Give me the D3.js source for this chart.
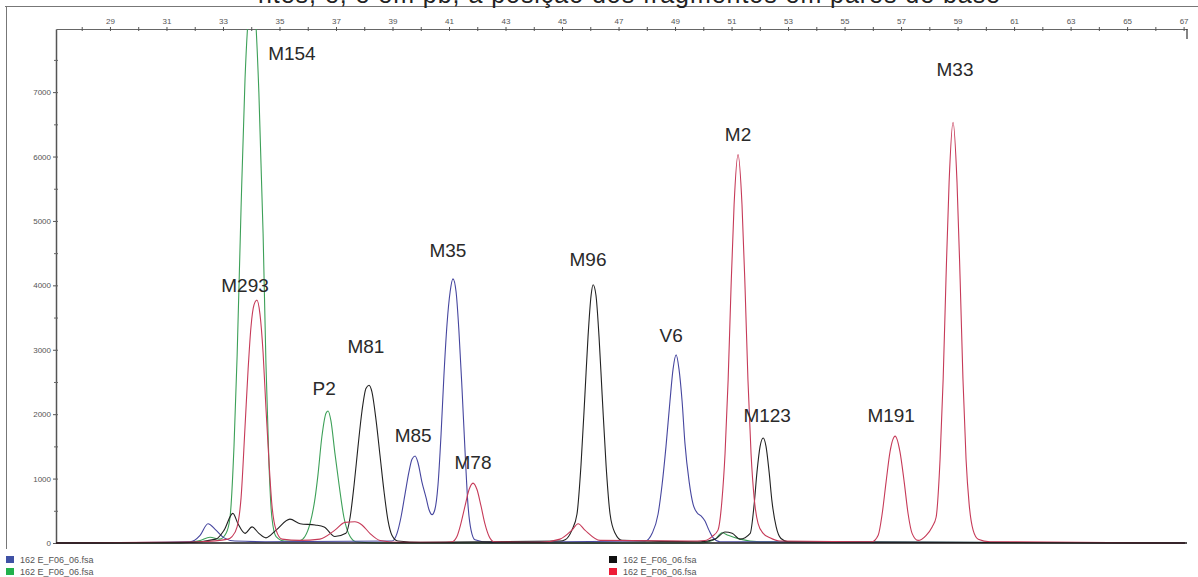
<!DOCTYPE html>
<html><head><meta charset="utf-8">
<script src="https://cdn.jsdelivr.net/npm/d3@7"></script>
<style>
body{margin:0;background:#fff;}
svg{display:block;font-family:"Liberation Sans",Arial,sans-serif;}
</style>
</head><body>
<svg id="c" width="1198" height="577"></svg>
<script>
// ---- data ----
const xMajorTicks = [29,31,33,35,37,39,41,43,45,47,49,51,53,55,57,59,61,63,65,67];
const xMinorTicks = [28,30,32,34,36,38,40,42,44,46,48,50,52,54,56,58,60,62,64,66];
const yMajorTicks = [0,1000,2000,3000,4000,5000,6000,7000];
const yMinorTicks = [500,1500,2500,3500,4500,5500,6500,7500];
const xDomain = [27.09, 67.12];
const yDomain = [0, 7980];

const seriesNames = ["blue","green","black","red"];
const legendLabels = ["162 E_F06_06.fsa","162 E_F06_06.fsa","162 E_F06_06.fsa","162 E_F06_06.fsa"];

const blueTrace = [[27.05,0],[31.83,20],[32.19,120],[32.47,300],[32.75,200],[33.04,80],[33.42,30],[34.5,20],[38.98,30],[39.16,150],[39.30,400],[39.44,750],[39.58,1100],[39.69,1300],[39.80,1350],[39.90,1250],[40.04,950],[40.19,700],[40.29,520],[40.40,440],[40.50,520],[40.61,900],[40.72,1700],[40.82,2600],[40.93,3400],[41.04,3900],[41.14,4100],[41.25,3900],[41.35,3300],[41.46,2400],[41.57,1400],[41.67,600],[41.78,200],[41.92,50],[42.45,10],[47.94,30],[48.19,150],[48.40,450],[48.54,900],[48.68,1500],[48.82,2200],[48.93,2700],[49.04,2920],[49.14,2700],[49.25,2200],[49.35,1550],[49.50,950],[49.64,600],[49.78,470],[49.92,420],[50.06,340],[50.20,200],[50.35,80],[50.59,20],[67.05,0]];

const greenTrace = [[27.05,0],[31.48,0],[32.19,40],[32.54,90],[32.89,60],[33.11,150],[33.25,400],[33.39,1500],[33.50,2900],[33.64,5200],[33.78,7200],[33.92,8300],[34.03,8600],[34.13,8300],[34.27,7000],[34.42,4800],[34.52,2800],[34.63,1200],[34.73,400],[34.88,100],[35.19,30],[35.73,40],[35.90,100],[36.08,300],[36.26,700],[36.36,1050],[36.50,1650],[36.65,2020],[36.72,2050],[36.82,1900],[36.96,1400],[37.11,900],[37.28,400],[37.50,100],[37.71,20],[38.56,0],[49.89,0],[50.42,60],[50.66,160],[50.88,120],[51.30,60],[52.01,20],[67.05,0]];

const blackTrace = [[27.05,0],[31.83,10],[32.75,60],[33.04,200],[33.35,460],[33.53,300],[33.78,150],[34.03,250],[34.27,150],[34.52,80],[34.88,200],[35.37,370],[35.73,300],[36.26,280],[36.58,250],[36.96,100],[37.35,150],[37.50,400],[37.64,900],[37.78,1500],[37.92,2050],[38.06,2400],[38.17,2450],[38.27,2350],[38.42,1900],[38.56,1350],[38.70,800],[38.84,350],[38.98,120],[39.19,30],[40.00,10],[44.93,30],[45.11,50],[45.35,200],[45.53,450],[45.67,1200],[45.81,2300],[45.92,3200],[46.03,3850],[46.10,4010],[46.20,3850],[46.31,3200],[46.42,2300],[46.56,1200],[46.70,450],[46.88,150],[47.12,40],[49.89,20],[50.42,60],[50.77,170],[51.02,150],[51.30,60],[51.66,150],[51.80,600],[51.90,1100],[52.01,1500],[52.12,1630],[52.22,1500],[52.33,1100],[52.43,650],[52.58,250],[52.75,70],[53.00,20],[67.05,0]];

const redTrace = [[27.05,0],[30.42,10],[32.19,20],[33.18,60],[33.32,100],[33.50,250],[33.64,700],[33.78,1800],[33.89,2700],[33.99,3350],[34.10,3700],[34.20,3770],[34.31,3550],[34.42,2950],[34.52,2100],[34.63,1250],[34.73,600],[34.88,200],[35.09,60],[35.73,40],[36.43,60],[36.96,200],[37.32,320],[37.67,330],[37.92,280],[38.20,150],[38.56,40],[39.27,10],[40.68,10],[41.11,20],[41.28,100],[41.42,300],[41.57,580],[41.71,830],[41.85,930],[41.99,830],[42.13,580],[42.27,300],[42.42,100],[42.59,20],[44.22,10],[44.93,60],[45.35,200],[45.57,300],[45.81,200],[46.35,40],[49.53,30],[50.06,40],[50.31,100],[50.52,200],[50.66,660],[50.77,1390],[50.88,2540],[50.98,3940],[51.09,5250],[51.23,6030],[51.37,5250],[51.48,3940],[51.58,2540],[51.69,1390],[51.80,700],[51.94,300],[52.12,150],[52.36,80],[52.72,30],[55.55,20],[55.97,20],[56.19,120],[56.33,450],[56.47,950],[56.61,1420],[56.79,1660],[56.96,1420],[57.11,950],[57.25,450],[57.39,150],[57.60,40],[57.89,120],[58.10,250],[58.24,400],[58.38,1300],[58.49,2550],[58.59,4100],[58.70,5600],[58.84,6530],[58.98,5600],[59.09,4100],[59.19,2550],[59.30,1300],[59.41,600],[59.55,200],[59.73,60],[60.15,20],[67.05,0]];

const peakNames = ["M154","M293","P2","M81","M85","M35","M78","M96","V6","M2","M123","M191","M33"];
const peakLabelBp = [35.44,33.78,36.58,38.06,39.73,40.96,41.85,45.92,48.86,51.23,52.26,56.65,58.91];
const peakLabelRfu = [7500,3900,2300,2950,1570,4440,1150,4300,3120,6240,1880,1880,7250];

const titleText = "ntes, e, e em pb, a posição dos fragmentos em pares de base";

// ---- styles ----
const colors = {blue:"#46469f", green:"#3da058", black:"#222222", red:"#c63a58"};
const swatch = {blue:"#3f51a5", green:"#22b14c", black:"#111111", red:"#ed1c36"};

const svg = d3.select("#c");
const L = 56, R = 1187, T = 29, B = 543;
const x = d3.scaleLinear().domain(xDomain).range([L, R]);
const y = d3.scaleLinear().domain(yDomain).range([B, T]);

// outer frame
svg.append("line").attr("x1",5).attr("x2",1198).attr("y1",6.5).attr("y2",6.5).attr("stroke","#777").attr("stroke-width",1);
svg.append("line").attr("x1",6.5).attr("x2",6.5).attr("y1",6).attr("y2",549).attr("stroke","#777").attr("stroke-width",1);

// title (cut off at the top edge, as in the reference)
svg.append("text").attr("x",258).attr("y",2.5).attr("font-size",25).attr("fill","#222")
  .attr("textLength",742).attr("lengthAdjust","spacing").text(titleText);

// clip
svg.append("defs").append("clipPath").attr("id","plot")
  .append("rect").attr("x",L).attr("y",T).attr("width",R-L).attr("height",B-T+2);

// top axis
const topAxis = svg.append("g").attr("transform",`translate(0,${T})`)
  .call(d3.axisTop(x).tickValues(xMajorTicks).tickSize(2).tickSizeOuter(0).tickPadding(3).tickFormat(d3.format("d")));
topAxis.select(".domain").attr("stroke","#666").attr("stroke-width",1.2);
topAxis.selectAll(".tick line").attr("stroke","#555");
topAxis.selectAll("text").attr("font-size",8).attr("fill","#555").attr("font-family","Liberation Sans, Arial, sans-serif");
const topAxis2 = svg.append("g").attr("transform",`translate(0,${T})`)
  .call(d3.axisBottom(x).tickValues(xMajorTicks.concat(xMinorTicks)).tickSize(2).tickSizeOuter(0).tickFormat(""));
topAxis2.select(".domain").remove();
topAxis2.selectAll(".tick line").attr("stroke","#555");
const topAxis3 = svg.append("g").attr("transform",`translate(0,${T})`)
  .call(d3.axisTop(x).tickValues(xMinorTicks).tickSize(2).tickSizeOuter(0).tickFormat(""));
topAxis3.select(".domain").remove();
topAxis3.selectAll(".tick line").attr("stroke","#555");
// right edge short line
svg.append("line").attr("x1",R).attr("x2",R).attr("y1",T).attr("y2",T+10).attr("stroke","#333").attr("stroke-width",1.2);

// left axis
const leftAxis = svg.append("g").attr("transform",`translate(${L},0)`)
  .call(d3.axisLeft(y).tickValues(yMajorTicks).tickSize(3).tickSizeOuter(0).tickPadding(2).tickFormat(d3.format("d")));
leftAxis.select(".domain").attr("stroke","#555").attr("stroke-width",1.5);
leftAxis.selectAll(".tick line").attr("stroke","#555");
leftAxis.selectAll("text").attr("font-size",8).attr("fill","#555").attr("font-family","Liberation Sans, Arial, sans-serif");
const leftAxis2 = svg.append("g").attr("transform",`translate(${L},0)`)
  .call(d3.axisRight(y).tickValues(yMajorTicks.concat(yMinorTicks)).tickSize(2).tickSizeOuter(0).tickFormat(""));
leftAxis2.select(".domain").remove();
leftAxis2.selectAll(".tick line").attr("stroke","#666");
const leftAxis3 = svg.append("g").attr("transform",`translate(${L},0)`)
  .call(d3.axisLeft(y).tickValues(yMinorTicks).tickSize(2).tickSizeOuter(0).tickFormat(""));
leftAxis3.select(".domain").remove();
leftAxis3.selectAll(".tick line").attr("stroke","#666");

// traces
const line = d3.line().x(d=>x(d[0])).y(d=>y(d[1])).curve(d3.curveMonotoneX);
const traces = {blue:blueTrace, green:greenTrace, black:blackTrace, red:redTrace};
const g = svg.append("g").attr("clip-path","url(#plot)");
["green","blue","black","red"].forEach(k=>{
  g.append("path").datum(traces[k]).attr("d",line).attr("fill","none")
    .attr("stroke",colors[k]).attr("stroke-width",1.1).attr("stroke-linejoin","round");
});
// baseline
svg.append("line").attr("x1",L).attr("x2",R).attr("y1",y(0)).attr("y2",y(0)).attr("stroke","#1a1a1a").attr("stroke-width",1.6);

// peak labels
svg.append("g").selectAll("text").data(peakNames).join("text")
  .attr("x",(d,i)=>x(peakLabelBp[i])).attr("y",(d,i)=>y(peakLabelRfu[i]))
  .attr("text-anchor","middle").attr("font-size",19).attr("fill","#2a2a2a").text(d=>d);

// legend
const legPos = [[6,556],[6,568],[609,556],[609,568]];
seriesNames.forEach((k,i)=>{
  const [lx,ly] = legPos[i];
  svg.append("rect").attr("x",lx).attr("y",ly).attr("width",8).attr("height",7).attr("fill",swatch[k]);
  svg.append("text").attr("x",lx+14).attr("y",ly+6.5).attr("font-size",9).attr("fill","#555").text(legendLabels[i]);
});
</script>
</body></html>
